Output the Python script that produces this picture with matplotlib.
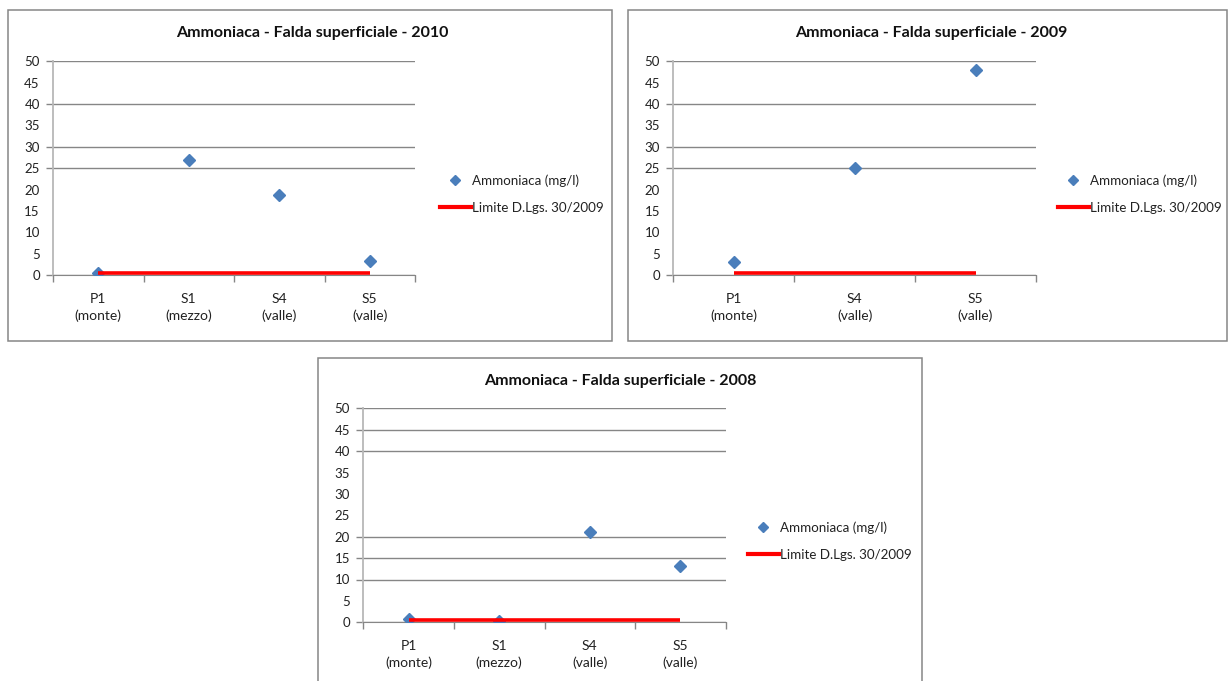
import matplotlib
matplotlib.use('Agg')
import matplotlib.pyplot as plt
from matplotlib.patches import Rectangle
from matplotlib.lines import Line2D

plt.rcParams['font.family'] = ['Lato', 'DejaVu Sans']

W, H = 1228, 681

# dati per anno
cat_2010 = ['P1\n(monte)', 'S1\n(mezzo)', 'S4\n(valle)', 'S5\n(valle)']
nh4_2010 = [0.45, 26.9, 18.8, 3.4]
lim_2010 = [0.5, 0.5, 0.5, 0.5]

cat_2009 = ['P1\n(monte)', 'S4\n(valle)', 'S5\n(valle)']
nh4_2009 = [3.2, 25.0, 48.0]
lim_2009 = [0.5, 0.5, 0.5]

cat_2008 = ['P1\n(monte)', 'S1\n(mezzo)', 'S4\n(valle)', 'S5\n(valle)']
nh4_2008 = [0.8, 0.4, 21.2, 13.2]
lim_2008 = [0.5, 0.5, 0.5, 0.5]

serie_label = 'Ammoniaca (mg/l)'
limite_label = 'Limite D.Lgs. 30/2009'

BLU = '#4a7ebb'
GRIGIO = '#868686'


def fx(px):
    return px / W


def fy(py):
    return 1 - py / H


def grafico(fig, anno, cats, valori, limiti, cornice, area, titolo_xy, legenda_xy, griglia):
    # cornice del grafico
    x0, y0, x1, y1 = cornice
    fig.add_artist(Rectangle((fx(x0), fy(y1)), fx(x1 - x0), (y1 - y0) / H,
                             transform=fig.transFigure, fill=False, ec=GRIGIO, lw=1.1))
    # area del grafico
    l, t, r, b = area
    ax = fig.add_axes([fx(l), fy(b), fx(r - l), (b - t) / H])
    n = len(cats)
    x = list(range(n))
    ax.plot(x, valori, linestyle='none', marker='D', ms=6, color=BLU, zorder=3)
    ax.plot(x, limiti, color='red', lw=2.6, solid_capstyle='butt', zorder=4)

    ax.set_xlim(-0.5, n - 0.5)
    ax.set_ylim(0, 50)
    ax.set_xticks(x)
    ax.set_xticklabels(cats, fontsize=10, linespacing=1.45, color='#222222')
    ax.set_xticks([i - 0.5 for i in range(n + 1)], minor=True)
    ax.tick_params(axis='x', which='major', length=0, pad=12.5)
    ax.tick_params(axis='x', which='minor', length=5, color=GRIGIO, width=1)

    # griglia solo su alcuni livelli
    ax.yaxis.remove_overlapping_locs = False
    ax.set_yticks(range(0, 51, 5))
    ax.tick_params(axis='y', which='major', length=0, pad=9.5, labelsize=9.5, labelcolor='#222222')
    ax.set_yticks(griglia, minor=True)
    ax.tick_params(axis='y', which='minor', length=5, color=GRIGIO, width=1)
    ax.grid(axis='y', which='minor', color=GRIGIO, lw=1)
    ax.set_axisbelow(True)

    for s in ['top', 'right']:
        ax.spines[s].set_visible(False)
    ax.spines['bottom'].set_color(GRIGIO)
    ax.spines['left'].set_color('#b8b8b8')
    ax.spines['left'].set_linewidth(1.3)

    fig.text(fx(titolo_xy[0]), fy(titolo_xy[1]), 'Ammoniaca - Falda superficiale - ' + anno,
             ha='center', va='center', fontsize=11.5, fontweight='bold', color='#111111')

    maniglie = [Line2D([], [], linestyle='none', marker='D', ms=5, color=BLU),
                Line2D([], [], color='red', lw=3)]
    fig.legend(maniglie, [serie_label, limite_label], loc='upper left',
               bbox_to_anchor=(fx(legenda_xy[0]), fy(legenda_xy[1])),
               frameon=False, fontsize=9.6, borderpad=0, borderaxespad=0,
               handlelength=2.3, handletextpad=0.1, labelspacing=1.15,
               labelcolor='#222222')
    return ax


fig = plt.figure(figsize=(W / 100, H / 100), dpi=100)

grafico(fig, '2010', cat_2010, nh4_2010, lim_2010,
        (8, 10, 612, 341), (53, 61.3, 415, 275.3), (312, 33), (440, 174),
        [0, 25, 30, 40, 50])
grafico(fig, '2009', cat_2009, nh4_2009, lim_2009,
        (628, 10, 1227, 341), (673.3, 61.3, 1036, 275.3), (931, 33), (1058, 174),
        [0, 25, 30, 40, 50])
grafico(fig, '2008', cat_2008, nh4_2008, lim_2008,
        (318, 358, 922, 700), (363.3, 408.3, 725.7, 622.3), (620, 380.5), (748, 521),
        [0, 10, 15, 20, 40, 45, 50])

fig.savefig('out.png', dpi=100)
